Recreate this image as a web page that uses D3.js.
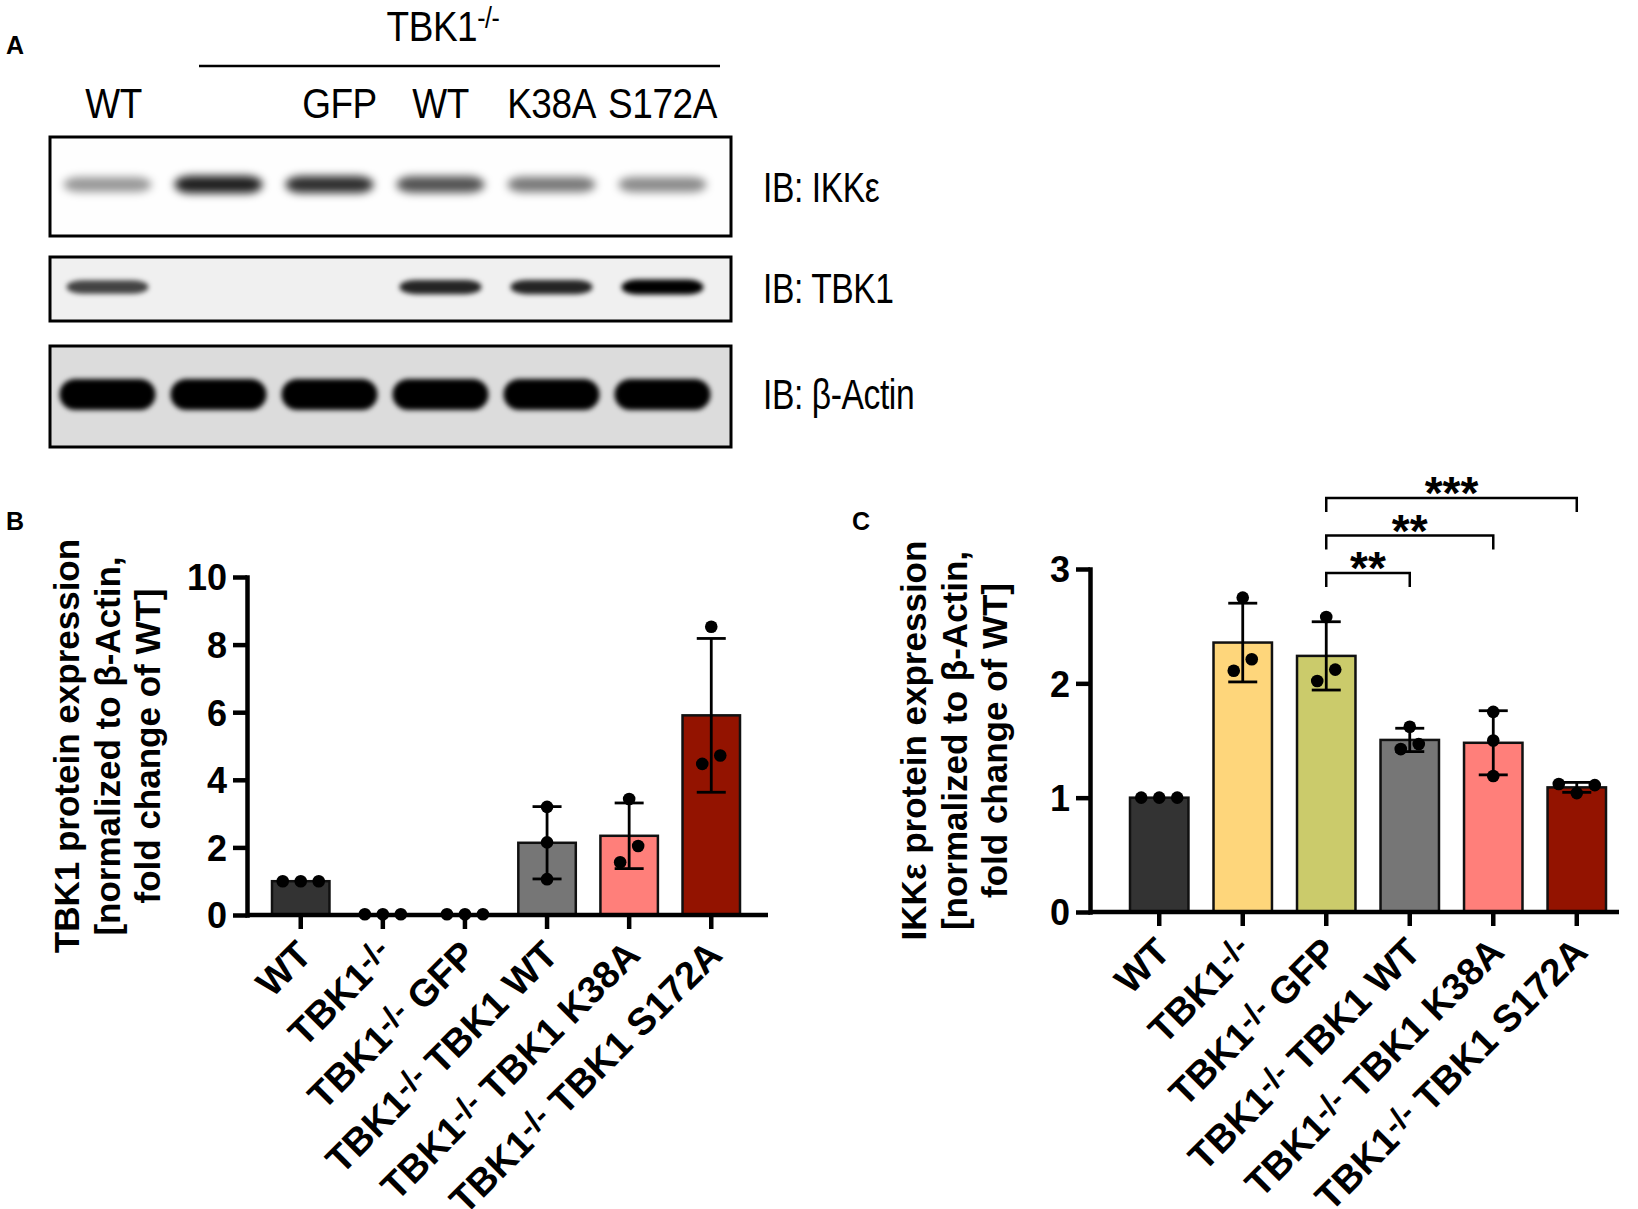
<!DOCTYPE html>
<html>
<head>
<meta charset="utf-8">
<script src="https://cdn.jsdelivr.net/npm/d3@7"></script>
<style>
  body { margin: 0; background: #fff; }
  svg text { font-family: Arial, "Liberation Sans", sans-serif; }
</style>
</head>
<body>
<div id="fig"></div>
<script>
// ---- panel A: western blot lanes and band strengths (0..1) ----
const laneLabels = ["WT", "", "GFP", "WT", "K38A", "S172A"];
const blotLabels = ["IB: IKKε", "IB: TBK1", "IB: β-Actin"];
const ikkBands = [0.4, 0.88, 0.82, 0.68, 0.52, 0.45];
const tbk1Bands = [0.72, 0, 0, 0.85, 0.85, 1.0];
const actinBands = [1, 1, 1, 1, 1, 1];

// ---- panels B and C: groups and the single replicate values ----
const groups = ["WT", "TBK1-/-", "TBK1-/- GFP", "TBK1-/- TBK1 WT", "TBK1-/- TBK1 K38A", "TBK1-/- TBK1 S172A"];
const tbk1Points = [
    [1, 1, 1],
    [0.02, 0.02, 0.02],
    [0.02, 0.02, 0.02],
    [3.2, 2.15, 1.06],
    [3.43, 2.04, 1.56],
    [8.53, 4.72, 4.47]
];
const ikkPoints = [
    [1, 1, 1],
    [2.75, 2.21, 2.11],
    [2.58, 2.12, 2.02],
    [1.62, 1.47, 1.425],
    [1.75, 1.5, 1.19],
    [1.12, 1.11, 1.04]
];
const tbk1Ticks = [0, 2, 4, 6, 8, 10];
const ikkTicks = [0, 1, 2, 3];
// comparisons drawn above panel C
const ikkStats = [
    ["TBK1-/- GFP", "TBK1-/- TBK1 WT", "**"],
    ["TBK1-/- GFP", "TBK1-/- TBK1 K38A", "**"],
    ["TBK1-/- GFP", "TBK1-/- TBK1 S172A", "***"]
];

const barColors = ["#333333", "#fed67b", "#cbcb6b", "#767676", "#ff7f7a", "#931300"];

const svg = d3.select("#fig").append("svg")
    .attr("width", 1638).attr("height", 1209);

const defs = svg.append("defs");
[["blurSoft", 4.5], ["blurHard", 2.8]].forEach(([id, s]) => {
    defs.append("filter").attr("id", id).attr("x", "-30%").attr("y", "-150%")
        .attr("width", "160%").attr("height", "400%")
        .append("feGaussianBlur").attr("stdDeviation", s);
});

// panel letters
[["A", 6, 54], ["B", 6, 530], ["C", 852, 530]].forEach(([t, x, y]) => {
    svg.append("text").attr("x", x).attr("y", y).text(t)
        .style("font-size", "25px").style("font-weight", "bold");
});

// narrow text helper, the blot labels look like Arial Narrow
function narrowText(x, y, str, anchor, size, sx) {
    const g = svg.append("g").attr("transform", `translate(${x},${y}) scale(${sx || 0.8},1)`);
    return g.append("text").attr("text-anchor", anchor)
        .style("font-size", size + "px").style("letter-spacing", "-0.5px").text(str);
}

// ---- panel A ----
function drawBlot() {
    const lane = d3.scaleBand().domain(d3.range(laneLabels.length)).range([52, 718]);
    const cx = i => lane(i) + lane.bandwidth() / 2;

    // TBK1-/- header with line over lanes 2..6
    const head = narrowText(443, 41, "TBK1", "middle", 43, 0.86);
    head.append("tspan").attr("dy", -13).style("font-size", "29px").text("-/-");
    svg.append("line").attr("x1", 199).attr("x2", 720).attr("y1", 66).attr("y2", 66)
        .attr("stroke", "#000").attr("stroke-width", 2.5);

    laneLabels.forEach((l, i) => {
        if (l) narrowText(cx(i) + (i === 2 ? 10 : i === 0 ? 6 : 0), 118, l, "middle", 43, 0.86);
    });

    const blots = [
        { bands: ikkBands, top: 137, bottom: 236, bg: "#fefefe", w: 88, h: 13, f: "blurSoft", label: blotLabels[0], ly: 202 },
        { bands: tbk1Bands, top: 257, bottom: 321, bg: "#f0f0f0", w: 82, h: 10, f: "blurHard", label: blotLabels[1], ly: 303 },
        { bands: actinBands, top: 346, bottom: 447, bg: "#dcdcdc", w: 96, h: 26, f: "blurHard", label: blotLabels[2], ly: 409 }
    ];
    blots.forEach(b => {
        const mid = (b.top + b.bottom) / 2 - 2;
        svg.append("rect").attr("x", 50).attr("y", b.top).attr("width", 681)
            .attr("height", b.bottom - b.top).attr("fill", b.bg);
        svg.append("g").attr("filter", `url(#${b.f})`)
            .selectAll("rect").data(b.bands).join("rect")
            .attr("x", (d, i) => cx(i) - b.w / 2)
            .attr("width", b.w)
            .attr("y", d => mid - (b.h + 5 * d) / 2)
            .attr("height", d => b.h + 5 * d)
            .attr("rx", 16).attr("ry", d => (b.h + 5 * d) / 2)
            .attr("fill", "#000")
            .attr("fill-opacity", d => d);
        svg.append("rect").attr("x", 50).attr("y", b.top).attr("width", 681)
            .attr("height", b.bottom - b.top).attr("fill", "none")
            .attr("stroke", "#000").attr("stroke-width", 3);
        narrowText(763, b.ly, b.label, "start", 42);
    });
}
drawBlot();

// spread replicate dots sideways when they would overlap
function dotOffsets(vals, y, gap, step) {
    const idx = vals.map((v, i) => i).sort((a, b) => vals[a] - vals[b]);
    const out = new Array(vals.length).fill(0);
    let cluster = [idx[0]];
    const flush = () => {
        const pat = cluster.length === 1 ? [0] : cluster.length === 2 ? [-0.5, 0.5] : [0, 1, -1];
        cluster.forEach((k, j) => out[k] = pat[j] * step);
    };
    for (let j = 1; j < idx.length; j++) {
        if (Math.abs(y(vals[idx[j]]) - y(vals[idx[j - 1]])) < gap) cluster.push(idx[j]);
        else { flush(); cluster = [idx[j]]; }
    }
    flush();
    return out;
}

// ---- bar chart with dots and SD (panels B and C) ----
function drawBars(cfg) {
    const g = svg.append("g");
    const x = d3.scaleBand().domain(groups).range(cfg.band).paddingInner(0.3).paddingOuter(0);
    const y = d3.scaleLinear().domain([0, cfg.max]).range([cfg.y0, cfg.y1]);
    const stats = cfg.points.map((p, i) => ({
        name: groups[i], mean: d3.mean(p), sd: d3.deviation(p) || 0, pts: p, i: i
    }));
    const mid = d => x(d.name) + x.bandwidth() / 2;

    g.selectAll("rect.bar").data(stats).join("rect")
        .attr("class", "bar")
        .attr("x", d => x(d.name)).attr("width", x.bandwidth())
        .attr("y", d => y(d.mean)).attr("height", d => Math.max(0, y(0) - y(d.mean)))
        .attr("fill", d => barColors[d.i])
        .attr("stroke", "#111").attr("stroke-width", 2.5);

    // error bars (mean +/- SD)
    const eb = g.selectAll("g.err").data(stats.filter(d => d.sd > 0.01)).join("g");
    eb.append("line").attr("x1", mid).attr("x2", mid)
        .attr("y1", d => y(d.mean - d.sd)).attr("y2", d => y(d.mean + d.sd));
    [1, -1].forEach(s => {
        eb.append("line").attr("x1", d => mid(d) - 14.5).attr("x2", d => mid(d) + 14.5)
            .attr("y1", d => y(d.mean + s * d.sd)).attr("y2", d => y(d.mean + s * d.sd));
    });
    eb.selectAll("line").attr("stroke", "#000").attr("stroke-width", 2.8);

    // replicate dots
    stats.forEach(d => {
        const off = dotOffsets(d.pts, y, 16.5, 18);
        g.selectAll(null).data(d.pts).join("circle")
            .attr("cx", (v, k) => mid(d) + off[k])
            .attr("cy", v => y(v))
            .attr("r", 6.3).attr("fill", "#000");
    });

    // y axis
    const ya = g.append("g").attr("transform", `translate(${cfg.axisX},0)`)
        .call(d3.axisLeft(y).tickValues(cfg.ticks).tickFormat(d3.format("d"))
            .tickSize(14).tickSizeOuter(0).tickPadding(6));
    ya.select(".domain").attr("stroke-width", 4.5).attr("stroke-linecap", "square");
    ya.selectAll(".tick line").attr("stroke-width", 4.5);
    ya.selectAll(".tick text").style("font-size", "36px").style("font-weight", "bold")
        .attr("fill", "#000").attr("dy", "0.36em");

    // x axis
    const xa = g.append("g").attr("transform", `translate(0,${cfg.y0})`)
        .call(d3.axisBottom(x).tickSize(14).tickSizeOuter(0).tickFormat(""));
    xa.select(".domain").remove();
    xa.selectAll(".tick line").attr("stroke-width", 4.5);
    g.append("line").attr("x1", cfg.axisX).attr("x2", cfg.axisEnd)
        .attr("y1", cfg.y0).attr("y2", cfg.y0)
        .attr("stroke", "#000").attr("stroke-width", 4.5);

    // rotated group labels, "-/-" raised
    groups.forEach(name => {
        const t = g.append("text")
            .attr("transform", `translate(${x(name) + x.bandwidth() / 2 + 13},${cfg.y0 + 42}) rotate(-45)`)
            .attr("text-anchor", "end")
            .style("font-size", "38px").style("font-weight", "bold");
        const parts = name.split("-/-");
        t.append("tspan").text(parts[0]);
        if (parts.length > 1) {
            t.append("tspan").attr("dy", -8).style("font-size", "32px").text("-/-");
            t.append("tspan").attr("dy", 8).text(parts[1] || " ");
        }
    });

    // y title
    const ty = (cfg.y0 + cfg.y1) / 2;
    cfg.title.forEach((line, k) => {
        g.append("text")
            .attr("transform", `translate(${cfg.titleX + k * 40.5},${ty}) rotate(-90)`)
            .attr("text-anchor", "middle")
            .style("font-size", "35px").style("font-weight", "bold")
            .text(line);
    });

    // significance brackets
    (cfg.sig || []).forEach(([a, b, lab], k) => {
        const yb = y(cfg.max) + 4 - k * 37.5;
        const xa1 = x(a) + x.bandwidth() / 2, xb1 = x(b) + x.bandwidth() / 2;
        g.append("path")
            .attr("d", `M${xa1},${yb + 14}V${yb}H${xb1}V${yb + 14}`)
            .attr("fill", "none").attr("stroke", "#000").attr("stroke-width", 2.5);
        g.append("text").attr("x", (xa1 + xb1) / 2).attr("y", yb + 11)
            .attr("text-anchor", "middle")
            .style("font-size", "46px").style("font-weight", "bold").text(lab);
    });
}

drawBars({
    points: tbk1Points, max: 10, ticks: tbk1Ticks,
    y0: 915, y1: 577, axisX: 247, axisEnd: 768, band: [272, 740],
    titleX: 79,
    title: ["TBK1 protein expression", "[normalized to β-Actin,", "fold change of WT]"]
});

drawBars({
    points: ikkPoints, max: 3, ticks: ikkTicks,
    y0: 912, y1: 569, axisX: 1090, axisEnd: 1619, band: [1130, 1606],
    titleX: 926,
    title: ["IKKε protein expression", "[normalized to β-Actin,", "fold change of WT]"],
    sig: ikkStats
});
</script>
</body>
</html>
